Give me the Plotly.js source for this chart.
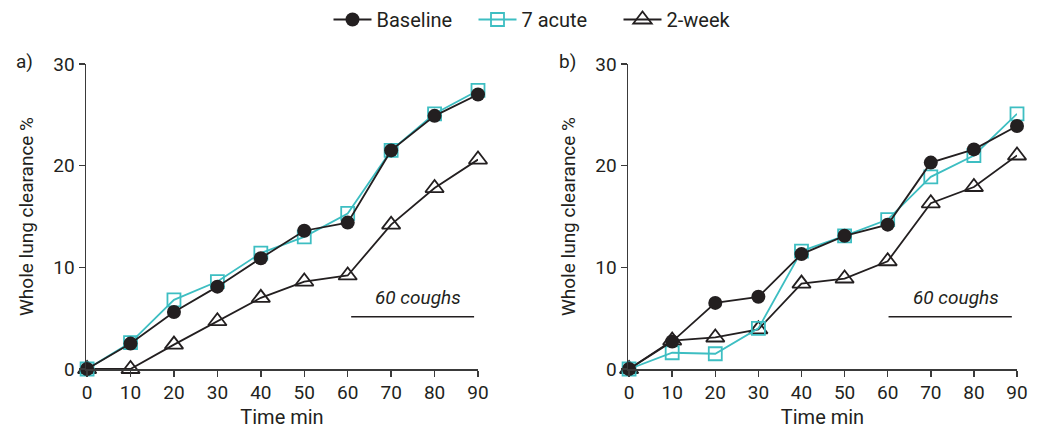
<!DOCTYPE html>
<html>
<head>
<meta charset="utf-8">
<script src="https://cdn.plot.ly/plotly-3.0.1.min.js"></script>
<style>html,body{margin:0;padding:0;background:#fff;}#chart{width:1040px;height:429px;}</style>
</head>
<body>
<div id="chart"></div>
<script>
// Data
const timeMin = [0, 10, 20, 30, 40, 50, 60, 70, 80, 90];
const xTickVals = [0, 10, 20, 30, 40, 50, 60, 70, 80, 90];
const yTickVals = [0, 10, 20, 30];
const seriesNames = ["Baseline", "7 acute", "2-week"];

const aBaseline = [0, 2.5, 5.6, 8.1, 10.9, 13.6, 14.4, 21.5, 24.9, 27.0];
const aAcute    = [0, 2.6, 6.8, 8.6, 11.4, 13.0, 15.3, 21.5, 25.1, 27.4];
const aTwoWeek  = [0, 0.0, 2.4, 4.7, 7.0, 8.6, 9.2, 14.2, 17.8, 20.6];

const bBaseline = [0, 2.7, 6.5, 7.1, 11.3, 13.1, 14.2, 20.3, 21.6, 23.9];
const bAcute    = [0, 1.6, 1.5, 4.0, 11.6, 13.1, 14.7, 18.9, 21.0, 25.1];
const bTwoWeek  = [0, 2.8, 3.1, 3.9, 8.4, 8.9, 10.6, 16.3, 17.9, 21.0];

const panelLabels = ["a)", "b)"];
const coughLabel = "60 coughs";

const BLACK = "#231f20";
const TEAL = "#3dbec2";
const FONT = "Roboto, 'DejaVu Sans', sans-serif";

function traces(xa, ya, base, acute, twoWeek, showLegend) {
  return [
    {x: timeMin, y: twoWeek, xaxis: xa, yaxis: ya, name: seriesNames[2], legendrank: 3,
     mode: "lines+markers", showlegend: showLegend, cliponaxis: false,
     line: {color: BLACK, width: 1.8},
     marker: {symbol: "triangle-up-open", size: 16, color: BLACK, line: {width: 1.8, color: BLACK}}},
    {x: timeMin, y: acute, xaxis: xa, yaxis: ya, name: seriesNames[1], legendrank: 2,
     mode: "lines+markers", showlegend: showLegend, cliponaxis: false,
     line: {color: TEAL, width: 1.8},
     marker: {symbol: "square-open", size: 13, color: TEAL, line: {width: 1.8, color: TEAL}}},
    {x: timeMin, y: base, xaxis: xa, yaxis: ya, name: seriesNames[0], legendrank: 1,
     mode: "lines+markers", showlegend: showLegend, cliponaxis: false,
     line: {color: BLACK, width: 1.8},
     marker: {symbol: "circle", size: 14, color: BLACK}}
  ];
}

const data = [
  ...traces("x", "y", aBaseline, aAcute, aTwoWeek, true),
  ...traces("x2", "y2", bBaseline, bAcute, bTwoWeek, false)
];

const W = 1040, H = 429;
const yDom = [(H - 369) / H, (H - 64) / H];

function xAxis(dom, anchor) {
  return {
    domain: dom, anchor: anchor, range: [-0.25, 90], tickvals: xTickVals,
    showline: true, linecolor: "#3a3a3a", linewidth: 1.5,
    ticks: "outside", ticklen: 6, tickwidth: 1.5, tickcolor: "#3a3a3a",
    showgrid: false, zeroline: false,
    tickfont: {family: FONT, size: 19, color: BLACK},
    title: {text: "Time min", font: {family: FONT, size: 20, color: BLACK}, standoff: 10}
  };
}
function yAxis(dom, anchor) {
  return {
    domain: dom, anchor: anchor, range: [0, 30], tickvals: yTickVals,
    showline: true, linecolor: "#3a3a3a", linewidth: 1.5,
    ticks: "outside", ticklen: 6, tickwidth: 1.5, tickcolor: "#3a3a3a",
    showgrid: false, zeroline: false,
    tickfont: {family: FONT, size: 19, color: BLACK},
    title: {text: "Whole lung clearance %", font: {family: FONT, size: 19, color: BLACK}, standoff: 14}
  };
}

const layout = {
  width: W, height: H,
  margin: {l: 0, r: 0, t: 0, b: 0},
  paper_bgcolor: "#fff", plot_bgcolor: "#fff",
  font: {family: FONT, color: BLACK},
  showlegend: true,
  legend: {orientation: "h", x: 0.525, xanchor: "center", y: 1.0, yanchor: "top",
           font: {family: FONT, size: 20, color: BLACK}, itemwidth: 38, tracegroupgap: 0,
           entrywidth: 92, entrywidthmode: "pixels"},
  xaxis: xAxis([86 / W, 478 / W], "y"),
  yaxis: yAxis(yDom, "x"),
  xaxis2: xAxis([628 / W, 1017 / W], "y2"),
  yaxis2: yAxis(yDom, "x2"),
  shapes: [
    {type: "line", xref: "x", yref: "y", x0: 60.8, x1: 89.1, y0: 5.15, y1: 5.15, line: {color: BLACK, width: 1.5}},
    {type: "line", xref: "x2", yref: "y2", x0: 60.2, x1: 88.8, y0: 5.15, y1: 5.15, line: {color: BLACK, width: 1.5}}
  ],
  annotations: [
    {xref: "x", yref: "y", x: 76.2, y: 7.0, text: "<i>" + coughLabel + "</i>", showarrow: false,
     font: {family: FONT, size: 19, color: BLACK}},
    {xref: "x2", yref: "y2", x: 75.9, y: 7.0, text: "<i>" + coughLabel + "</i>", showarrow: false,
     font: {family: FONT, size: 19, color: BLACK}},
    {xref: "paper", yref: "paper", x: 14 / W, y: (H - 62) / H, xanchor: "left", yanchor: "middle",
     text: panelLabels[0], showarrow: false, font: {family: FONT, size: 19, color: BLACK}},
    {xref: "paper", yref: "paper", x: 557 / W, y: (H - 62) / H, xanchor: "left", yanchor: "middle",
     text: panelLabels[1], showarrow: false, font: {family: FONT, size: 19, color: BLACK}}
  ]
};

Plotly.newPlot("chart", data, layout, {displayModeBar: false, staticPlot: true});
</script>
</body>
</html>
